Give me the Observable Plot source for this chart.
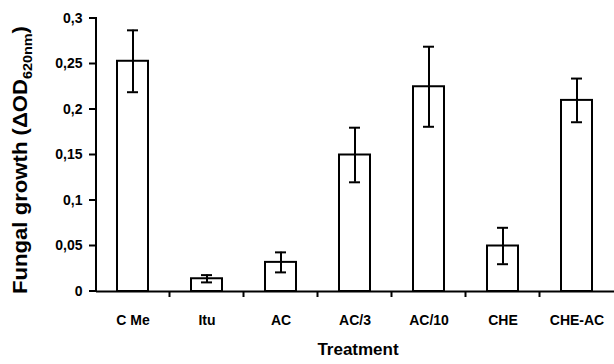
<!DOCTYPE html>
<html>
<head>
<meta charset="utf-8">
<script src="https://cdn.jsdelivr.net/npm/d3@7"></script>
<script src="https://cdn.jsdelivr.net/npm/@observablehq/plot@0.6"></script>
<style>
  html, body { margin: 0; padding: 0; background: #fff; }
  svg { display: block; }
</style>
</head>
<body>
<div id="chart"></div>
<script>
const categories = ["C Me", "Itu", "AC", "AC/3", "AC/10", "CHE", "CHE-AC"];
const growth = [0.253, 0.014, 0.032, 0.150, 0.225, 0.050, 0.210];
const errors = [0.034, 0.004, 0.011, 0.030, 0.044, 0.020, 0.024];
const yTicks = [0, 0.05, 0.1, 0.15, 0.2, 0.25, 0.3];
const yTickLabels = ["0", "0,05", "0,1", "0,15", "0,2", "0,25", "0,3"];
const xTitle = "Treatment";
const yTitle = "Fungal growth (ΔOD";
const yTitleSub = "620nm";

const data = categories.map((c, i) => ({cat: c, v: growth[i], e: errors[i]}));
const FONT = "'Liberation Sans', Arial, sans-serif";

const chart = Plot.plot({
  width: 614,
  height: 364,
  marginLeft: 96,
  marginRight: 0,
  marginTop: 18,
  marginBottom: 73,
  style: {fontFamily: FONT, fontWeight: "bold", fontSize: "14px", color: "#000"},
  x: {domain: categories, paddingInner: 0.58, paddingOuter: 0.29, label: null},
  y: {domain: [0, 0.3], label: null},
  marks: [
    Plot.barY(data, {x: "cat", y: "v", fill: "white", stroke: "black", strokeWidth: 2}),
    Plot.ruleX(data, {x: "cat", y1: d => d.v - d.e, y2: d => d.v + d.e, stroke: "black", strokeWidth: 2}),
    Plot.tickY(data, {x: "cat", y: d => d.v + d.e, stroke: "black", strokeWidth: 2, insetLeft: 10, insetRight: 10}),
    Plot.tickY(data, {x: "cat", y: d => d.v - d.e, stroke: "black", strokeWidth: 2, insetLeft: 10, insetRight: 10}),
    Plot.ruleY([0], {stroke: "black", strokeWidth: 2.2}),
    Plot.axisY({ticks: yTicks, tickFormat: d => yTickLabels[yTicks.indexOf(d)], tickSize: 0, tickPadding: 14, fontSize: 14, fontWeight: "bold", label: null}),
    Plot.axisX({tickSize: 0, tickPadding: 24, fontSize: 14, fontWeight: "bold", label: null})
  ]
});

const svg = d3.select(chart);
const sx = chart.scale("x");
const sy = chart.scale("y");
const y0 = sy.apply(0);
const xLeft = sx.range[0];
const g = svg.append("g").attr("stroke", "#000").attr("stroke-width", 2);
// y axis line and ticks
g.append("line").attr("x1", xLeft).attr("x2", xLeft)
  .attr("y1", sy.apply(yTicks[yTicks.length - 1]) - 1).attr("y2", y0 + 1);
for (const t of yTicks) {
  g.append("line").attr("x1", xLeft - 7).attr("x2", xLeft).attr("y1", sy.apply(t)).attr("y2", sy.apply(t));
}
// boundary ticks between categories
for (let i = 1; i < categories.length; i++) {
  const xm = (sx.apply(categories[i - 1]) + sx.apply(categories[i]) + sx.bandwidth) / 2;
  g.append("line").attr("x1", xm).attr("x2", xm).attr("y1", y0).attr("y2", y0 + 6);
}
// x title
svg.append("text")
  .attr("x", 358).attr("y", 355)
  .attr("text-anchor", "middle")
  .attr("font-family", FONT)
  .attr("font-weight", "bold").attr("font-size", 17)
  .text(xTitle);
// y title with subscript
const yt = svg.append("text")
  .attr("transform", "translate(27,160) rotate(-90)")
  .attr("text-anchor", "middle")
  .attr("font-family", FONT)
  .attr("font-weight", "bold").attr("font-size", 20)
  .attr("textLength", 268).attr("lengthAdjust", "spacingAndGlyphs");
yt.append("tspan").text(yTitle);
yt.append("tspan").attr("font-size", 13).attr("dy", 5).text(yTitleSub);
yt.append("tspan").attr("dy", -5).text(")");

document.getElementById("chart").appendChild(chart);
</script>
</body>
</html>
